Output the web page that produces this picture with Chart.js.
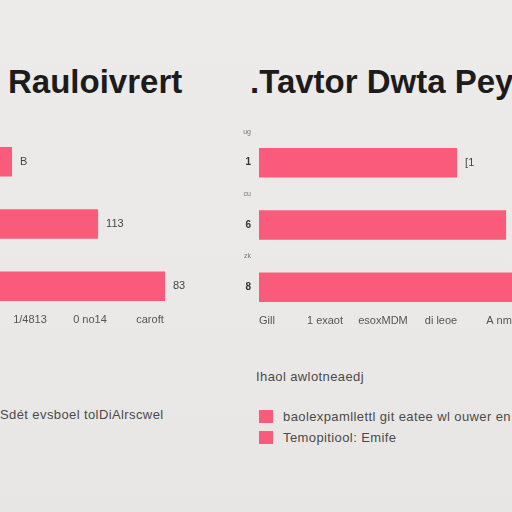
<!DOCTYPE html>
<html lang="en">
<head>
<meta charset="utf-8">
<title>Rauloivrert / Tavtor Dwta Pey</title>
<script src="https://cdn.jsdelivr.net/npm/chart.js"></script>
<style>
    html, body { margin: 0; padding: 0; }
    body {
        width: 512px; height: 512px; overflow: hidden; position: relative;
        background: linear-gradient(180deg, #edebe9 0%, #ebe9e7 60%, #e8e6e4 100%);
        font-family: "Liberation Sans", Arial, sans-serif; color: #1c1c1c;
    }
    .title { position: absolute; top: 63px; font-size: 33px; font-weight: bold; white-space: nowrap; }
    .box { position: absolute; }
    .note { position: absolute; font-size: 13px; letter-spacing: 0.4px; color: #4a4a4a; white-space: nowrap; }
    .sw { position: absolute; width: 14px; height: 13px; background: #fa5b7b; }
</style>
</head>
<body>
    <div class="title" style="left:8px;">Rauloivrert</div>
    <div class="title" style="left:250px;">.Tavtor Dwta Pey</div>

    <div class="box" style="left:-60px; top:110px; width:260px; height:246px;"><canvas id="leftChart"></canvas></div>
    <div class="box" style="left:230px; top:101.5px; width:400px; height:255px;"><canvas id="rightChart"></canvas></div>

    <div class="note" style="left:0px; top:407px;">Sdét evsboel tolDiAlrscwel</div>
    <div class="note" style="left:256px; top:369px;">Ihaol awlotneaedj</div>
    <div class="sw" style="left:259px; top:410px;"></div>
    <div class="note" style="left:283px; top:409px;">baolexpamllettl git eatee wl ouwer en</div>
    <div class="sw" style="left:259px; top:431px;"></div>
    <div class="note" style="left:283px; top:430px;">Temopitiool: Emife</div>

<script>
    // rows (a small label sits between every bar)
    const rowLabels = ['ug', '1', 'cu', '6', 'zk', '8'];

    // left chart
    const leftValues = [null, 14, null, 42.7, null, 65];
    const leftValueLabels = ['', 'B', '', '113', '', '83'];
    const leftTickLabels = { 20: '1/4813', 40: '0 no14', 60: 'caroft' };

    // right chart
    const rightValues = [null, 68.3, null, 85.2, null, 102];
    const rightValueLabels = ['', '[1', '', '[3', '', '83'];
    const rightTickLabels = { 0: 'Gill', 20: '1 exaot', 40: 'esoxMDM', 60: 'di leoe', 80: 'A nm', 100: 'b12' };

    const pink = '#fa5b7b';
    const tickColor = '#555555';

    function barValuesPlugin(texts) {
        return {
            id: 'barValues',
            afterDatasetsDraw(chart) {
                const ctx = chart.ctx;
                const meta = chart.getDatasetMeta(0);
                ctx.save();
                ctx.font = '11px "Liberation Sans", Arial, sans-serif';
                ctx.fillStyle = '#444444';
                ctx.textBaseline = 'middle';
                meta.data.forEach((bar, i) => {
                    if (!texts[i]) return;
                    ctx.fillText(texts[i], bar.x + 8, bar.y);
                });
                ctx.restore();
            }
        };
    }

    function makeChart(id, values, texts, tickLabels, max, opts) {
        return new Chart(document.getElementById(id), {
            type: 'bar',
            data: {
                labels: rowLabels,
                datasets: [{
                    data: values,
                    backgroundColor: pink,
                    borderWidth: 0,
                    barPercentage: 0.95,
                    categoryPercentage: 1
                }]
            },
            options: {
                indexAxis: 'y',
                responsive: true,
                maintainAspectRatio: false,
                animation: false,
                layout: { padding: opts.padding },
                plugins: {
                    legend: { display: false },
                    tooltip: { enabled: false }
                },
                scales: {
                    x: {
                        min: 0,
                        max: max,
                        grid: { display: false, drawTicks: false },
                        border: { display: false },
                        ticks: {
                            stepSize: 20,
                            includeBounds: false,
                            autoSkip: false,
                            maxRotation: 0,
                            padding: 12,
                            labelOffset: opts.labelOffset,
                            color: tickColor,
                            font: { size: 11, family: '"Liberation Sans", Arial, sans-serif' },
                            callback: v => tickLabels[v] || ''
                        }
                    },
                    y: {
                        display: opts.showY,
                        grid: { display: false, drawTicks: false },
                        border: { display: false },
                        afterFit: s => { if (opts.showY) s.width = 29; },
                        ticks: {
                            padding: 8,
                            color: c => (c.index % 2 ? '#333333' : '#777777'),
                            font: c => ({
                                size: c.index % 2 ? 10 : 7,
                                weight: c.index % 2 ? 'bold' : 'normal',
                                family: '"Liberation Sans", Arial, sans-serif'
                            })
                        }
                    }
                }
            },
            plugins: [barValuesPlugin(texts)]
        });
    }

    makeChart('leftChart', leftValues, leftValueLabels, leftTickLabels, 70,
        { padding: { left: 30, right: 20, top: 5, bottom: 17 }, showY: false, labelOffset: 0 });
    makeChart('rightChart', rightValues, rightValueLabels, rightTickLabels, 120,
        { padding: { left: 0, right: 23, top: 5, bottom: 17 }, showY: true, labelOffset: 8 });
</script>
</body>
</html>
